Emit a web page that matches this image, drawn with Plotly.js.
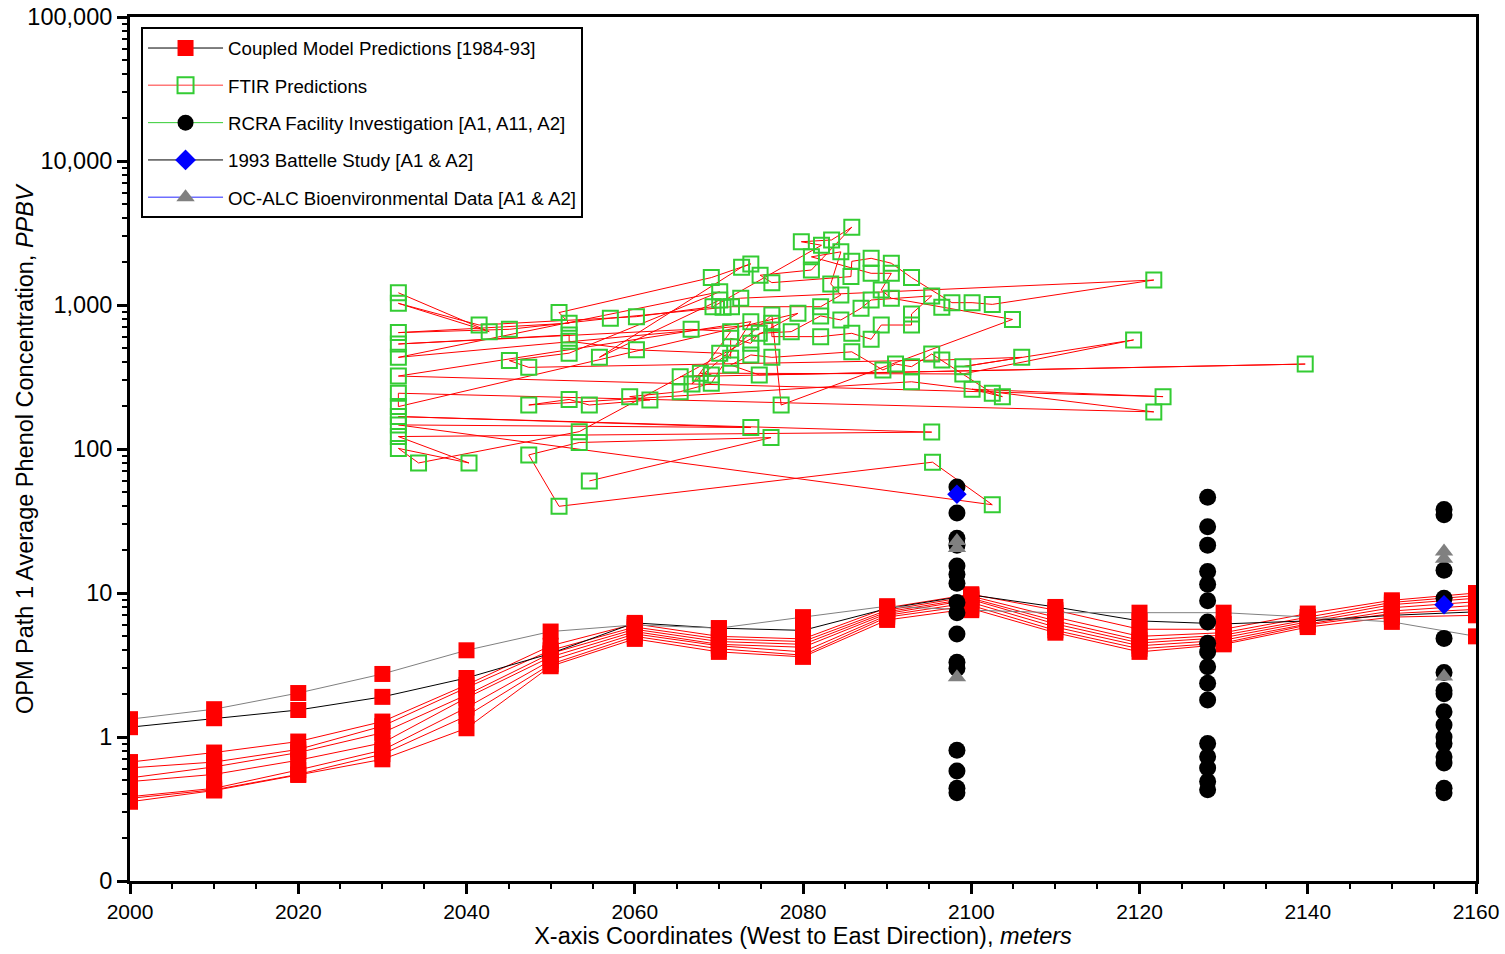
<!DOCTYPE html>
<html>
<head>
<meta charset="utf-8">
<script src="https://cdn.plot.ly/plotly-3.0.1.min.js"></script>
<style>
  html, body { margin: 0; padding: 0; background: #ffffff; }
  #chart { width: 1505px; height: 954px; }
</style>
</head>
<body>
<div id="chart"></div>
<script>
// Station coordinates along OPM Path 1 (meters, west to east)
const stations = [2000, 2010, 2020, 2030, 2040, 2050, 2060, 2070, 2080, 2090, 2100, 2110, 2120, 2130, 2140, 2150, 2160];

// Coupled model predictions, one run per line (PPBV)
const runGray  = [1.33, 1.56, 2.02, 2.74, 4.0, 5.4, 6.0, 5.7, 6.8, 8.1, 7.6, 7.3, 7.3, 7.3, 6.8, 6.3, 5.0];
const runBlack = [1.17, 1.35, 1.54, 1.9, 2.57, 3.8, 6.2, 5.7, 5.5, 7.8, 9.7, 8.0, 6.4, 6.1, 6.4, 7.0, 7.4];
const runRed1  = [0.67, 0.78, 0.93, 1.28, 2.3, 4.3, 6.1, 5.0, 4.8, 7.9, 9.8, 7.6, 5.6, 5.6, 7.2, 8.9, 10.0];
const runRed2  = [0.61, 0.67, 0.82, 1.19, 2.2, 4.0, 5.8, 4.8, 4.6, 7.6, 9.5, 6.8, 5.0, 5.3, 6.8, 8.6, 9.6];
const runRed3  = [0.52, 0.62, 0.78, 1.07, 1.96, 3.8, 5.6, 4.6, 4.4, 7.4, 9.2, 6.4, 4.7, 5.1, 6.5, 8.3, 9.2];
const runRed4  = [0.49, 0.55, 0.69, 0.91, 1.87, 3.6, 5.4, 4.4, 4.2, 7.2, 9.0, 6.1, 4.5, 4.9, 6.3, 7.9, 8.7];
const runRed5  = [0.385, 0.44, 0.59, 0.81, 1.6, 3.4, 5.2, 4.3, 3.9, 7.0, 8.6, 5.8, 4.3, 4.7, 6.1, 7.5, 8.2];
const runRed6  = [0.375, 0.43, 0.55, 0.76, 1.4, 3.2, 5.0, 4.1, 3.7, 6.8, 8.2, 5.5, 4.1, 4.5, 6.0, 7.2, 7.7];
const runRed7  = [0.355, 0.425, 0.545, 0.70, 1.15, 3.1, 4.8, 3.9, 3.6, 6.5, 7.8, 5.3, 3.9, 4.4, 5.8, 6.8, 7.0];

// FTIR predictions, in reporting order
const ftirX = [2031.9, 2042.7, 2031.9, 2041.5, 2060.2, 2069.3, 2082.2, 2079.8, 2083.4, 2085.8,
               2081.0, 2074.9, 2076.3, 2085.7, 2085.8, 2088.1, 2090.5, 2092.9, 2097.7, 2100.1,
               2102.5, 2121.7, 2072.6, 2070.1, 2055.8, 2072.7, 2073.8, 2069.1, 2051.0, 2052.2,
               2031.9, 2045.1, 2057.1, 2070.5, 2071.5, 2082.1, 2084.5, 2083.3, 2084.5, 2081.0,
               2088.1, 2090.5, 2089.3, 2090.5, 2096.5, 2104.9, 2077.4, 2076.3, 2066.8, 2071.4,
               2066.7, 2031.9, 2052.2, 2052.2, 2060.2, 2070.1, 2071.4, 2071.4, 2073.8, 2074.8,
               2078.6, 2082.1, 2084.5, 2086.9, 2088.1, 2095.3, 2092.9, 2092.9, 2089.3, 2088.1,
               2085.8, 2082.1, 2076.3, 2076.3, 2031.9, 2070.1, 2052.2, 2045.1, 2047.4, 2096.5,
               2106.0, 2099.0, 2119.3, 2099.0, 2067.8, 2069.1, 2065.4, 2139.7, 2074.8, 2071.4,
               2073.8, 2076.3, 2085.8, 2089.5, 2091.0, 2092.9, 2095.3, 2102.5, 2103.7, 2100.1,
               2122.8, 2031.9, 2073.8, 2069.1, 2065.4, 2059.4, 2061.8, 2054.6, 2052.2, 2047.4,
               2092.9, 2121.7, 2031.9, 2031.9, 2079.4, 2053.4, 2034.3, 2031.9, 2040.3, 2031.9,
               2095.3, 2031.9, 2073.8, 2031.9, 2102.5, 2095.4, 2051.0, 2047.4, 2053.4, 2076.2,
               2054.6];
const ftirY = [1216, 653, 1027, 726, 830, 973, 2600, 2750, 2830, 3470,
               1750, 1610, 1430, 1575, 2010, 2110, 1950, 1550, 1038, 1038,
               1010, 1490, 1115, 1083, 433, 1830, 1930, 1550, 886, 747,
               643, 678, 809, 964, 973, 973, 1175, 1400, 2340, 2160,
               1660, 1660, 1270, 1115, 964, 794, 202, 851, 283, 653,
               678, 536, 620, 560, 488, 463, 427, 587, 542, 636,
               653, 840, 787, 950, 1083, 1157, 866, 726, 726, 578,
               636, 603, 603, 747, 433, 1235, 463, 411, 369, 415,
               433, 373, 572, 332, 336, 327, 318, 389, 327, 383,
               450, 433, 473, 354, 389, 373, 457, 244, 231, 260,
               231, 321, 766, 286, 250, 231, 219, 202, 221, 202,
               293, 181, 244, 197, 875, 132, 80, 101, 80, 122,
               131, 168, 141, 147, 41, 81, 40, 91, 111, 120,
               60];

// RCRA Facility Investigation samples [A1, A11, A2]
const rcraX = [2098.3, 2098.3, 2098.3, 2098.3, 2098.3, 2098.3, 2098.3, 2098.3, 2098.3, 2098.3, 2098.3, 2098.3, 2098.3, 2098.3, 2098.3, 2098.3,
               2128.1, 2128.1, 2128.1, 2128.1, 2128.1, 2128.1, 2128.1, 2128.1, 2128.1, 2128.1, 2128.1, 2128.1, 2128.1, 2128.1, 2128.1, 2128.1, 2128.1,
               2156.2, 2156.2, 2156.2, 2156.2, 2156.2, 2156.2, 2156.2, 2156.2, 2156.2, 2156.2, 2156.2, 2156.2, 2156.2, 2156.2, 2156.2, 2156.2];
const rcraY = [54.5, 36, 24, 21.5, 15.4, 13.5, 11.7, 8.6, 7.3, 5.2, 3.3, 3.0, 0.81, 0.58, 0.44, 0.41,
               46.2, 28.8, 21.5, 14.1, 11.5, 8.84, 6.3, 4.47, 3.9, 3.07, 2.36, 1.81, 0.90, 0.73, 0.61, 0.49, 0.43,
               38, 35, 14.4, 9.2, 4.84, 2.8, 2.1, 2.0, 1.5, 1.21, 1.0, 0.9, 0.73, 0.66, 0.44, 0.41];

// 1993 Battelle study [A1 & A2]
const battelleX = [2098.3, 2156.2];
const battelleY = [48.5, 8.3];

// OC-ALC bioenvironmental data [A1 & A2]
const ocalcX = [2098.3, 2098.3, 2098.3, 2156.2, 2156.2, 2156.2];
const ocalcY = [23, 20.5, 2.6, 19.4, 17.3, 2.63];

// Legend labels
const legendNames = [
  'Coupled Model Predictions [1984-93]',
  'FTIR Predictions',
  'RCRA Facility Investigation [A1, A11, A2]',
  '1993 Battelle Study [A1 & A2]',
  'OC-ALC Bioenvironmental Data [A1 & A2]'
];

// Y-axis decade labels
const yTickVals = [0.1, 1, 10, 100, 1000, 10000, 100000];
const yTickText = ['0', '1', '10', '100', '1,000', '10,000', '100,000'];

const RED = '#ff0000';
const GREEN = 'rgb(51,204,51)';

const traces = [];

function modelRun(values, color) {
  return {
    x: stations, y: values, type: 'scatter', mode: 'lines+markers',
    line: { color: color, width: 1 },
    marker: { symbol: 'square', size: 16, color: RED },
    showlegend: false
  };
}
[runRed1, runRed2, runRed3, runRed4, runRed5, runRed6, runRed7].forEach(r => traces.push(modelRun(r, RED)));
traces.push(modelRun(runBlack, '#000000'));
traces.push(modelRun(runGray, '#808080'));

traces.push({
  x: ftirX, y: ftirY, type: 'scatter', mode: 'lines+markers',
  line: { color: RED, width: 1 },
  marker: { symbol: 'square-open', size: 15, color: GREEN, line: { color: GREEN, width: 2 } },
  showlegend: false
});

traces.push({
  x: rcraX, y: rcraY, type: 'scatter', mode: 'markers',
  marker: { symbol: 'circle', size: 17, color: '#000000' },
  showlegend: false
});

traces.push({
  x: battelleX, y: battelleY, type: 'scatter', mode: 'markers',
  marker: { symbol: 'diamond', size: 15, color: '#0000ff' },
  showlegend: false
});

traces.push({
  x: ocalcX, y: ocalcY, type: 'scatter', mode: 'markers',
  marker: { symbol: 'triangle-up', size: 16, color: '#808080' },
  showlegend: false
});

// Legend entries (symbol + connecting line style for each data set)
const legendStyles = [
  { line: { color: '#000000', width: 1 }, marker: { symbol: 'square', size: 16, color: RED } },
  { line: { color: 'rgb(255,120,120)', width: 1.5 }, marker: { symbol: 'square-open', size: 16, color: GREEN, line: { color: GREEN, width: 2 } } },
  { line: { color: 'rgb(51,204,51)', width: 1 }, marker: { symbol: 'circle', size: 16, color: '#000000' } },
  { line: { color: '#000000', width: 1 }, marker: { symbol: 'diamond', size: 16, color: '#0000ff' } },
  { line: { color: 'rgb(110,110,255)', width: 1.5 }, marker: { symbol: 'triangle-up', size: 16, color: '#808080' } }
];
legendStyles.forEach((s, i) => {
  traces.push({
    x: [null], y: [null], type: 'scatter', mode: 'lines+markers',
    name: legendNames[i], legendgroup: 'g' + i,
    line: s.line, marker: s.marker, showlegend: true, hoverinfo: 'skip'
  });
});

const axisCommon = {
  showline: true, linewidth: 3, linecolor: '#000000', mirror: true,
  showgrid: false, zeroline: false,
  ticks: 'outside', ticklen: 10, tickwidth: 3, tickcolor: '#000000'
};

const layout = {
  width: 1505, height: 954,
  margin: { l: 130, r: 29, t: 17, b: 73, pad: 0 },
  paper_bgcolor: '#ffffff', plot_bgcolor: '#ffffff',
  font: { family: '"Liberation Sans", Arial, sans-serif', size: 20, color: '#000000' },
  showlegend: true,
  legend: {
    x: 0.0082, y: 0.988, xanchor: 'left', yanchor: 'top',
    bgcolor: '#ffffff', bordercolor: '#000000', borderwidth: 2,
    font: { size: 18.7, color: '#000000' },
    traceorder: 'grouped', tracegroupgap: 10, itemwidth: 75
  },
  xaxis: Object.assign({}, axisCommon, {
    range: [2000, 2160], tickmode: 'linear', tick0: 2000, dtick: 20,
    tickfont: { size: 21, color: '#000000' },
    minor: { dtick: 5, tick0: 2000, ticks: 'outside', ticklen: 5, tickwidth: 2, tickcolor: '#000000', showgrid: false },
    title: { text: 'X-axis Coordinates (West to East Direction), <i>meters</i>', font: { size: 23.5 }, standoff: 4 },
    automargin: false
  }),
  yaxis: Object.assign({}, axisCommon, {
    type: 'log', range: [-1, 5], tickmode: 'array', tickvals: yTickVals, ticktext: yTickText,
    tickfont: { size: 23.5, color: '#000000' },
    minor: { dtick: 'D1', ticks: 'outside', ticklen: 5, tickwidth: 2, tickcolor: '#000000', showgrid: false },
    automargin: false
  }),
  annotations: [{
    text: 'OPM Path 1 Average Phenol Concentration, <i>PPBV</i>',
    xref: 'paper', yref: 'paper', x: -0.078, y: 0.5,
    xanchor: 'center', yanchor: 'middle', textangle: -90, showarrow: false,
    font: { size: 23.5, color: '#000000' }
  }]
};

Plotly.newPlot('chart', traces, layout, { displayModeBar: false, staticPlot: true });
</script>
</body>
</html>
